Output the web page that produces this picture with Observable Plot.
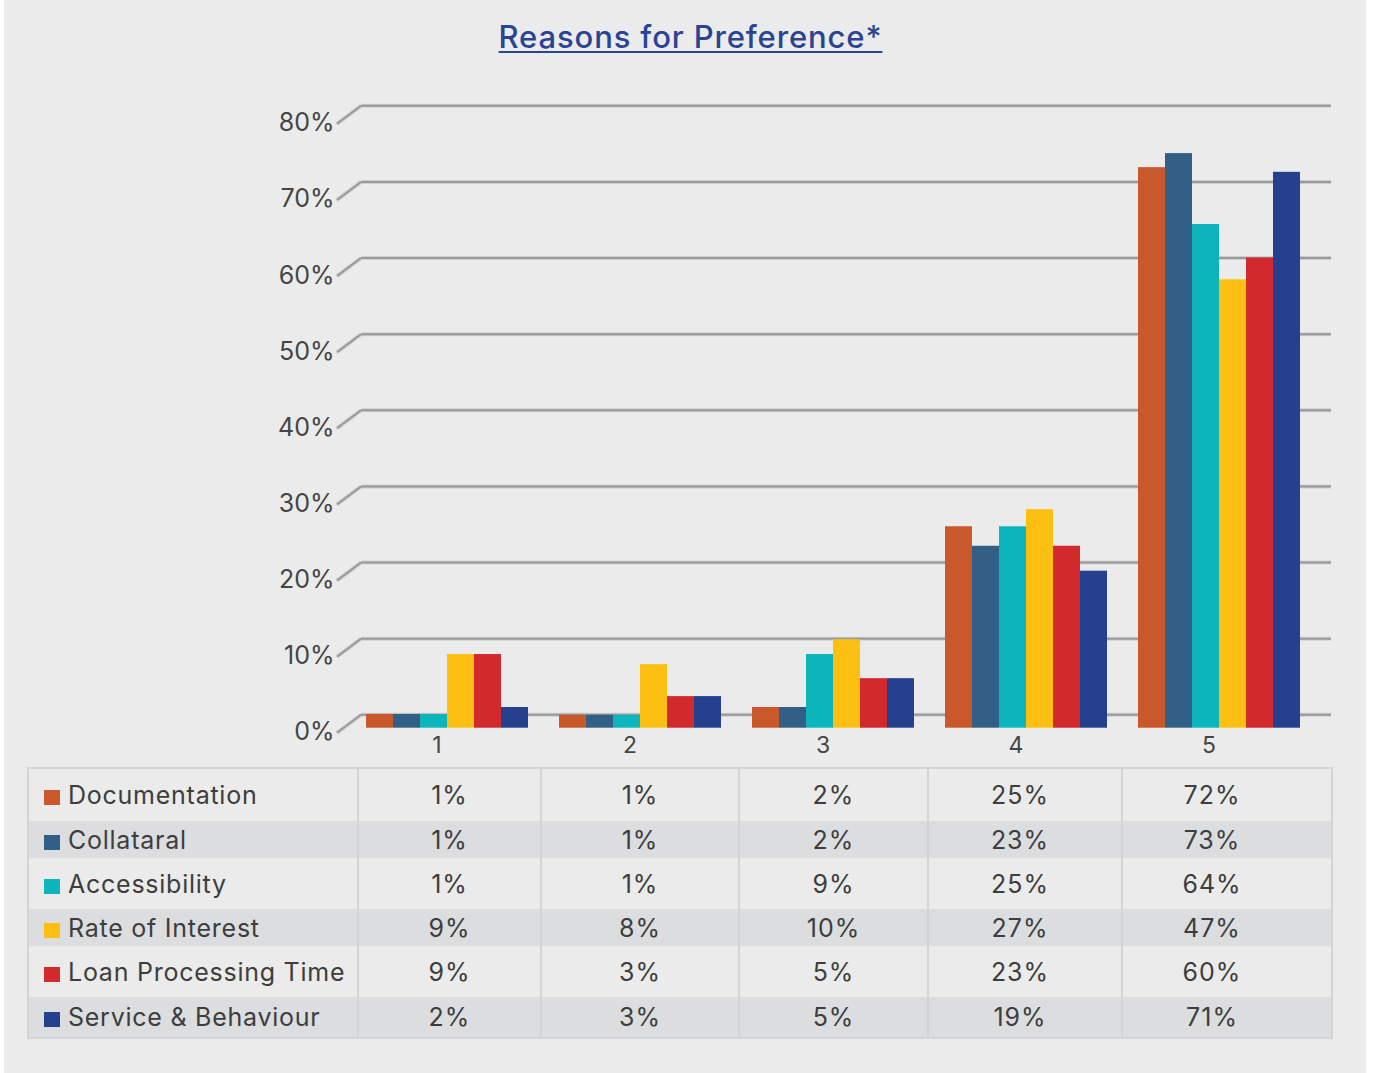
<!DOCTYPE html>
<html>
<head>
<meta charset="utf-8">
<script src="https://cdn.jsdelivr.net/npm/d3@7"></script>
<script src="https://cdn.jsdelivr.net/npm/@observablehq/plot@0.6"></script>
<style>
  html, body { margin: 0; padding: 0; background: #ffffff; overflow: hidden; }
  body { width: 1384px; height: 1073px; position: relative; font-family: Inter, "Open Sans", sans-serif; }
  #panel { position: absolute; left: 4px; top: 0; width: 1362px; height: 1073px; background: #ebebeb; }
  #title { position: absolute; left: 0; top: 21px; width: 1381px; text-align: center;
           font-size: 31px; line-height: 31px; font-weight: 500; color: #2a4494; letter-spacing: 0.028em; }
  #title span { text-decoration: underline; text-decoration-thickness: 2px; text-underline-offset: 3px; }
  .layer { position: absolute; left: 0; top: 0; }
  #tbl { position: absolute; left: 27px; top: 767px; width: 1304px; border-collapse: collapse;
         table-layout: fixed; border: 2px solid #d3d4d6; font-size: 25px; color: #3d3d3d; letter-spacing: 0.04em; }
  #tbl td { padding: 0; text-align: center; vertical-align: middle; border-left: 2px solid #d3d4d6; line-height: 26px; }
  #tbl td.lab { text-align: left; padding-left: 15px; border-left: none; white-space: nowrap; letter-spacing: 0.03em; }
  #tbl tbody tr:nth-child(odd) { background: #ebebeb; }
  #tbl tbody tr:nth-child(even) { background: #dcdddf; }
  #tbl tbody tr:nth-child(1) { height: 53px; }
  #tbl tbody tr:nth-child(2) { height: 37px; }
  #tbl tbody tr:nth-child(3) { height: 51px; }
  #tbl tbody tr:nth-child(4) { height: 37px; }
  #tbl tbody tr:nth-child(5) { height: 51px; }
  #tbl tbody tr:nth-child(6) { height: 41px; }
  #tbl td.c4 { padding-right: 10px; }
  #tbl td.c5 { padding-right: 30px; }
  .sw { display: inline-block; width: 16px; height: 15px; margin-right: 8px; vertical-align: -1px; }
</style>
</head>
<body>
<div id="panel"></div>
<div id="title"><span>Reasons for Preference*</span></div>
<div id="chart"></div>
<table id="tbl"></table>
<script>
// ---- data ----
const groups = ["1", "2", "3", "4", "5"];
const series = ["Documentation", "Collataral", "Accessibility", "Rate of Interest", "Loan Processing Time", "Service & Behaviour"];
const colors = ["#c9582a", "#325f86", "#0cb5bc", "#fdc012", "#d2292d", "#24408e"];
const yTicks = [0, 10, 20, 30, 40, 50, 60, 70, 80];

// bar heights as drawn
const barDocumentation = [1.0, 0.9, 1.9, 25.1, 71.2];
const barCollataral    = [1.0, 0.9, 1.9, 22.6, 73.0];
const barAccessibility = [1.0, 0.9, 8.7, 25.1, 63.9];
const barRate          = [8.7, 7.4, 10.6, 27.3, 56.8];
const barLoan          = [8.7, 3.3, 5.6, 22.6, 59.6];
const barService       = [1.9, 3.3, 5.6, 19.4, 70.6];

// values printed in the data table
const tblDocumentation = [1, 1, 2, 25, 72];
const tblCollataral    = [1, 1, 2, 23, 73];
const tblAccessibility = [1, 1, 9, 25, 64];
const tblRate          = [9, 8, 10, 27, 47];
const tblLoan          = [9, 3, 5, 23, 60];
const tblService       = [2, 3, 5, 19, 71];

const barValues = [barDocumentation, barCollataral, barAccessibility, barRate, barLoan, barService];
const tblValues = [tblDocumentation, tblCollataral, tblAccessibility, tblRate, tblLoan, tblService];

const rows = series.flatMap((s, si) => groups.map((g, gi) => ({group: g, series: s, value: barValues[si][gi]})));

// ---- back wall: gridlines and y labels ----
const axisPlot = Plot.plot({
  width: 1384, height: 760,
  marginLeft: 361, marginRight: 53, marginTop: 105.3, marginBottom: 45.7,
  y: {domain: [0, 80], axis: null},
  style: {background: "none", fontFamily: "Inter, sans-serif", overflow: "visible"},
  marks: [
    Plot.ruleY(yTicks, {stroke: "#cfcfd1", strokeWidth: 4}),
    Plot.ruleY(yTicks, {stroke: "#98989b", strokeWidth: 2}),
    Plot.text(yTicks, {y: d => d, text: d => `${d}%`, frameAnchor: "left", textAnchor: "end",
      dx: -27, dy: 17.5, fontSize: 25, fill: "#454545"})
  ]
});
// floor-to-wall slant for each gridline (3D depth effect)
d3.select(axisPlot).selectAll("g[aria-label=rule] line").each(function () {
  const l = d3.select(this);
  const x = +l.attr("x1"), y = +l.attr("y1");
  d3.select(this.parentNode).append("line")
    .attr("x1", x - 24).attr("y1", y + 18).attr("x2", x).attr("y2", y);
});
axisPlot.classList.add("layer");

// ---- bars ----
const barsPlot = Plot.plot({
  width: 1384, height: 760,
  marginLeft: 350, marginRight: 69, marginTop: 98.6, marginBottom: 38.2,
  fx: {domain: groups, paddingInner: 0.155, paddingOuter: 0.0775, axis: null},
  x: {domain: series, padding: 0, axis: null},
  y: {domain: [0, 80], axis: null},
  color: {domain: series, range: colors},
  style: {background: "none", fontFamily: "Inter, sans-serif", overflow: "visible"},
  marks: [
    Plot.barY(rows, {fx: "group", x: "series", y: "value", fill: "series",
      insetTop: 0, insetLeft: 0, insetRight: 0, insetBottom: -5.9}),
    Plot.text(groups, {fx: d => d, text: d => d, frameAnchor: "bottom", lineAnchor: "middle",
      dy: 23, dx: -10, fontSize: 23, fill: "#454545"})
  ]
});
barsPlot.classList.add("layer");

const chart = document.getElementById("chart");
chart.appendChild(axisPlot);
chart.appendChild(barsPlot);

// ---- data table ----
const tbl = d3.select("#tbl");
const cg = tbl.append("colgroup");
[330, 183, 198, 189, 194, 210].forEach(w => cg.append("col").style("width", w + "px"));
const tbody = tbl.append("tbody");
series.forEach((s, si) => {
  const tr = tbody.append("tr");
  const lab = tr.append("td").attr("class", "lab");
  lab.append("span").attr("class", "sw").style("background", colors[si]);
  lab.append("span").text(s);
  tblValues[si].forEach((v, gi) => tr.append("td").attr("class", "c" + (gi + 1)).text(`${v}%`));
});
</script>
</body>
</html>
